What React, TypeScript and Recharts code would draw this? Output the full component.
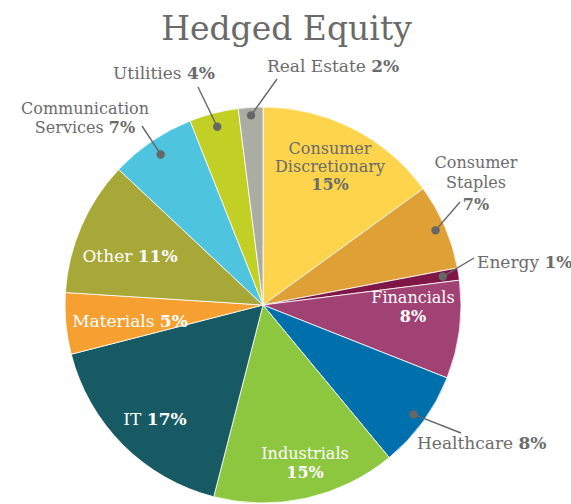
import { PieChart, Pie, Cell } from "recharts";

const sectors = [
  "Consumer Discretionary",
  "Consumer Staples",
  "Energy",
  "Financials",
  "Healthcare",
  "Industrials",
  "IT",
  "Materials",
  "Other",
  "Communication Services",
  "Utilities",
  "Real Estate",
];
const weights = [15, 7, 1, 8, 8, 15, 17, 5, 11, 7, 4, 2];
const colors = [
  "#FDD44C",
  "#DFA035",
  "#7E1646",
  "#A04273",
  "#0070AD",
  "#8DC63F",
  "#185A63",
  "#F5A031",
  "#A8A838",
  "#4FC4DF",
  "#C2CF24",
  "#ABACA4",
];

const data = sectors.map((name, i) => ({ name, value: weights[i] }));

const FONT = "'DejaVu Serif', serif";
const GRAY = "#6b6b6b";
const RAD = Math.PI / 180;

// where each label's text goes; outside labels also get a dot on the slice and a leader line
type LabelCfg = {
  tx: number;
  ty: number;
  anchor: "start" | "middle" | "end";
  lines: string[];
  pctInline: boolean;
  lh: number[];
  color: string;
  dotR?: number;
  lineEnd?: [number, number];
};

const layout: Record<string, LabelCfg> = {
  "Consumer Discretionary": { tx: 330, ty: 154, anchor: "middle", lines: ["Consumer", "Discretionary"], pctInline: false, lh: [18, 17.5], color: GRAY },
  Financials: { tx: 413, ty: 303, anchor: "middle", lines: ["Financials"], pctInline: false, lh: [19], color: "#fff" },
  Industrials: { tx: 305, ty: 459, anchor: "middle", lines: ["Industrials"], pctInline: false, lh: [19], color: "#fff" },
  IT: { tx: 155, ty: 425, anchor: "middle", lines: ["IT"], pctInline: true, lh: [], color: "#fff" },
  Materials: { tx: 130, ty: 327, anchor: "middle", lines: ["Materials"], pctInline: true, lh: [], color: "#fff" },
  Other: { tx: 130, ty: 262, anchor: "middle", lines: ["Other"], pctInline: true, lh: [], color: "#fff" },
  "Consumer Staples": { tx: 476, ty: 168, anchor: "middle", lines: ["Consumer", "Staples"], pctInline: false, lh: [20, 22], color: GRAY, dotR: 188, lineEnd: [460, 202] },
  Energy: { tx: 477, ty: 268, anchor: "start", lines: ["Energy"], pctInline: true, lh: [], color: GRAY, dotR: 182, lineEnd: [474, 258] },
  Healthcare: { tx: 417, ty: 449, anchor: "start", lines: ["Healthcare"], pctInline: true, lh: [], color: GRAY, dotR: 186, lineEnd: [461, 433] },
  "Communication Services": { tx: 85, ty: 114, anchor: "middle", lines: ["Communication", "Services"], pctInline: true, lh: [19], color: GRAY, dotR: 182, lineEnd: [142, 126] },
  Utilities: { tx: 164, ty: 79, anchor: "middle", lines: ["Utilities"], pctInline: true, lh: [], color: GRAY, dotR: 184, lineEnd: [198, 87] },
  "Real Estate": { tx: 267, ty: 72, anchor: "start", lines: ["Real Estate"], pctInline: true, lh: [], color: GRAY, dotR: 190, lineEnd: [277, 79] },
};

function Pct({ v }: { v: number }) {
  return <tspan fontWeight={700}>{`${v}%`}</tspan>;
}

function buildRows(lines: string[], pctInline: boolean, value: number) {
  const rows: any[] = lines.map((l, i) =>
    pctInline && i === lines.length - 1 ? (
      <>
        {l + " "}
        <Pct v={value} />
      </>
    ) : (
      l
    )
  );
  if (!pctInline) rows.push(<Pct v={value} />);
  return rows;
}

function renderLabel(props: any) {
  const { cx, cy, midAngle, name, value } = props;
  const cfg = layout[name];
  if (!cfg) return null;
  const rows = buildRows(cfg.lines, cfg.pctInline, value);
  const size = rows.length > 1 ? 16 : 17;

  let leader = null;
  if (cfg.dotR && cfg.lineEnd) {
    const dx = cx + cfg.dotR * Math.cos(-midAngle * RAD);
    const dy = cy + cfg.dotR * Math.sin(-midAngle * RAD);
    leader = (
      <>
        <line x1={dx} y1={dy} x2={cfg.lineEnd[0]} y2={cfg.lineEnd[1]} stroke="#666" strokeWidth={1.4} />
        <circle cx={dx} cy={dy} r={4.2} fill="#666" />
      </>
    );
  }

  let y = cfg.ty;
  return (
    <g key={name}>
      {leader}
      {rows.map((row, i) => {
        const yy = y;
        y += cfg.lh[i] ?? 18;
        return (
          <text
            key={i}
            x={cfg.tx}
            y={yy}
            textAnchor={cfg.anchor}
            fill={cfg.color}
            fontFamily={FONT}
            fontSize={size}
          >
            {row}
          </text>
        );
      })}
    </g>
  );
}

export default function App() {
  return (
    <div style={{ position: "absolute", left: 0, top: 0, width: 571, height: 504, background: "#fff" }}>
      <div
        style={{
          position: "absolute",
          left: 0,
          width: 571,
          top: 11,
          textAlign: "center",
          fontFamily: FONT,
          fontSize: 33,
          lineHeight: "36px",
          color: "#6a6a6a",
          paddingLeft: 1,
        }}
      >
        Hedged Equity
      </div>
      <PieChart
        width={571}
        height={504}
        margin={{ top: 0, right: 0, bottom: 0, left: 0 }}
        style={{ position: "absolute", left: 0, top: 0 }}
      >
        <Pie
          data={data}
          dataKey="value"
          nameKey="name"
          cx={263}
          cy={305}
          outerRadius={198}
          startAngle={90}
          endAngle={-270}
          stroke="#ffffff"
          strokeWidth={0.8}
          label={renderLabel}
          labelLine={false}
          isAnimationActive={false}
        >
          {data.map((d, i) => (
            <Cell key={d.name} fill={colors[i]} />
          ))}
        </Pie>
      </PieChart>
    </div>
  );
}
